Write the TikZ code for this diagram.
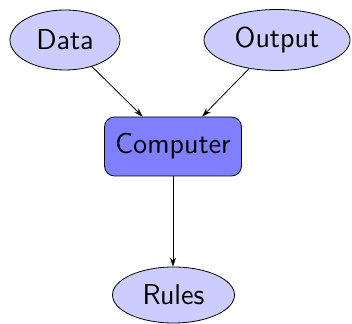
\documentclass[tikz,border=0pt]{standalone}
\usepackage{tikz}
\usetikzlibrary{arrows.meta,shapes.geometric}
\definecolor{lite}{HTML}{CCCCFF}
\definecolor{mid}{HTML}{8080FF}
\tikzset{
  oval/.style={ellipse,draw,fill=lite,inner sep=0pt,font=\Large\sffamily},
  cbox/.style={rectangle,draw,fill=mid,rounded corners=5pt,inner sep=0pt,font=\Large\sffamily},
  ar/.style={-{Stealth[length=4.5pt,width=3pt]}},
}
\begin{document}
\begin{tikzpicture}[x=0.5pt,y=-0.5pt]
  \useasboundingbox (0,0) rectangle (352,324);
  \node[oval,minimum width=55pt,minimum height=30pt] (data) at (65,40) {Data};
  \node[oval,minimum width=73pt,minimum height=30.5pt] (out) at (277,40) {Output};
  \node[cbox,minimum width=68.5pt,minimum height=29.5pt] (comp) at (173,146.5) {Computer};
  \node[oval,minimum width=61pt,minimum height=28pt] (rules) at (173.5,295) {Rules};
  \draw[ar] (data) -- (comp);
  \draw[ar] (out) -- (comp);
  \draw[ar] (comp) -- (comp |- rules.north);
\end{tikzpicture}
\end{document}
